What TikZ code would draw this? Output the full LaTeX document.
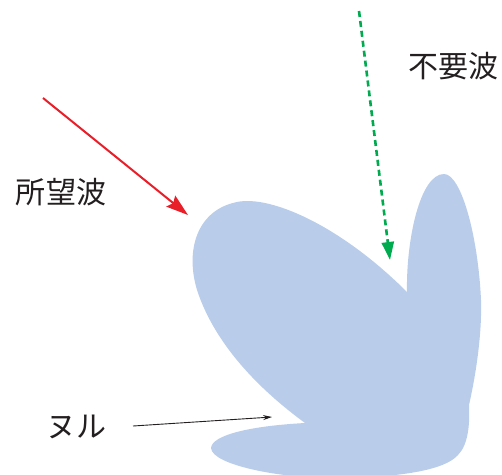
\documentclass[tikz,border=0pt]{standalone}
\usepackage{fontspec}
\newfontfamily\cjk{Noto Sans CJK JP}
\usetikzlibrary{arrows.meta}
\definecolor{lobe}{RGB}{185,205,234}
\definecolor{wantred}{RGB}{232,30,40}
\definecolor{noisegreen}{RGB}{0,170,78}
\definecolor{txt}{RGB}{35,31,32}
\tikzset{
  lbl/.style={font=\cjk\fontsize{30}{30}\selectfont, text=txt, inner sep=0pt},
  redarrow/.style={draw=wantred, line width=2pt, -{Stealth[length=22pt,width=14pt,inset=3pt]}},
  greenarrow/.style={draw=noisegreen, line width=2.6pt, dash pattern=on 6pt off 4pt, -{Triangle[length=18pt,width=12pt]}},
  nullarrow/.style={draw=txt, line width=0.9pt, -{Stealth[length=9pt,width=5pt]}}
}
\begin{document}
\begin{tikzpicture}[x=1pt,y=-1pt]
\useasboundingbox (0,0) rectangle (502,474);
% pattern
\fill[lobe] (407,292) .. controls (340,225) and (270,195) .. (237,202)
  .. controls (197,210) and (185,250) .. (197,290)
  .. controls (215,345) and (260,390) .. (305,423)
  .. controls (250,426) and (212,435) .. (211,448)
  .. controls (212,465) and (280,478) .. (330,478)
  .. controls (400,478) and (445,470) .. (458,455)
  .. controls (468,445) and (470,425) .. (469,405)
  .. controls (477,370) and (482,330) .. (481,300)
  .. controls (478,235) and (461,174) .. (444,174)
  .. controls (420,174) and (406,240) .. (407,292) -- cycle;
% labels
\node[lbl] (want) at (61,192) {所望波};
\node[lbl] (unwant) at (453,66) {不要波};
\node[lbl] (null) at (76,427) {ヌル};
% arrows
\coordinate (rs) at (43,98);
\coordinate (re) at (188,215);
\coordinate (gs) at (359,11);
\coordinate (ge) at (390,260);
\coordinate (ns) at (133,426);
\coordinate (ne) at (272,417);
\draw[redarrow] (rs) -- (re);
\draw[greenarrow] (gs) -- (ge);
\draw[nullarrow] (ns) -- (ne);
\end{tikzpicture}
\end{document}
